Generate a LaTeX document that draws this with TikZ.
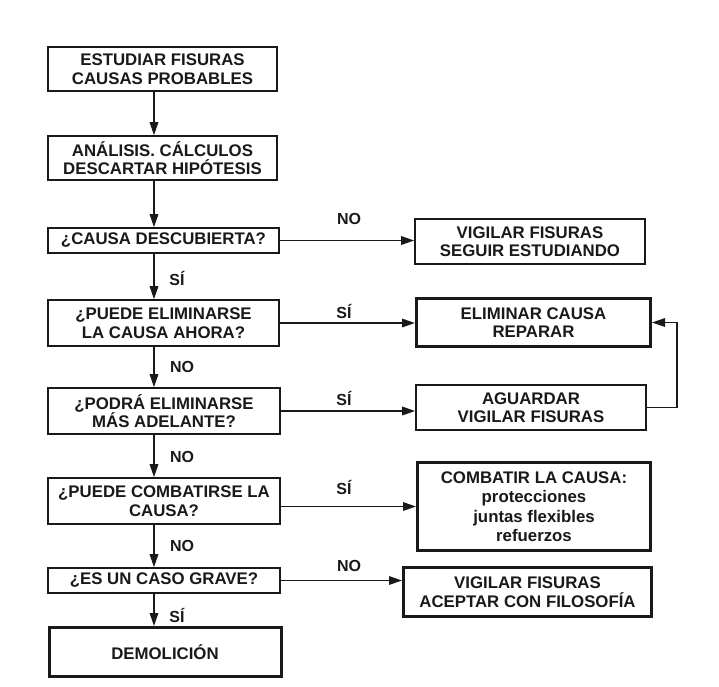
\documentclass[tikz,border=0pt]{standalone}
\usepackage{fontspec}
\setmainfont{Liberation Sans}
\usetikzlibrary{arrows.meta}
\begin{document}
\begin{tikzpicture}[x=1pt,y=-1pt,
  box/.style={draw=black!90, line width=1.6pt, inner sep=0pt, align=center, text=black!90,
    font=\bfseries\fontsize{16.8}{18.5}\selectfont},
  thickbox/.style={box, line width=3pt},
  lbl/.style={text=black!90, font=\bfseries\fontsize{16}{18}\selectfont, inner sep=0pt},
  arr/.style={draw=black!90, line width=1.6pt, -{Triangle[length=13pt,width=8.5pt]}}]
\useasboundingbox[fill=white] (0,0) rectangle (719,686);
% left column
\node[box, minimum width=229pt, minimum height=44pt] (n1) at (162.5,69) {ESTUDIAR FISURAS\\CAUSAS PROBABLES};
\node[box, minimum width=229pt, minimum height=44pt] (n2) at (162.5,158) {ANÁLISIS. CÁLCULOS\\DESCARTAR HIPÓTESIS};
\node[box, minimum width=231pt, minimum height=25pt] (n3) at (163.5,240.5) {¿CAUSA DESCUBIERTA?};
\node[box, minimum width=231pt, minimum height=46pt] (n4) at (163.5,323) {¿PUEDE ELIMINARSE\\LA CAUSA AHORA?};
\node[box, minimum width=232pt, minimum height=46pt] (n5) at (164,411) {¿PODRÁ ELIMINARSE\\MÁS ADELANTE?};
\node[box, minimum width=232pt, minimum height=46pt] (n6) at (164,501) {¿PUEDE COMBATIRSE LA\\CAUSA?};
\node[box, minimum width=232pt, minimum height=25pt] (n7) at (164,580.5) {¿ES UN CASO GRAVE?};
\node[thickbox, minimum width=232pt, minimum height=49pt] (n8) at (165,652) {DEMOLICIÓN};
% right column
\node[box, minimum width=230pt, minimum height=45pt] (A) at (530,241.5) {VIGILAR FISURAS\\SEGUIR ESTUDIANDO};
\node[thickbox, minimum width=234pt, minimum height=48pt] (B) at (533.5,322.5) {ELIMINAR CAUSA\\REPARAR};
\node[box, minimum width=230pt, minimum height=45pt] (C) at (531,407.5) {AGUARDAR\\VIGILAR FISURAS};
\node[thickbox, minimum width=233pt, minimum height=88pt, font=\bfseries\fontsize{16.8}{19.5}\selectfont] (D) at (534,506.5) {COMBATIR LA CAUSA:\\protecciones\\juntas flexibles\\refuerzos};
\node[thickbox, minimum width=248pt, minimum height=49pt] (E) at (527.5,592) {VIGILAR FISURAS\\ACEPTAR CON FILOSOFÍA};
% helper coordinates
\coordinate (ax) at (154,0);
\coordinate (fb) at (677,0);
% vertical arrows
\draw[arr] (n1.south -| ax) -- (n2.north -| ax);
\draw[arr] (n2.south -| ax) -- (n3.north -| ax);
\draw[arr] (n3.south -| ax) -- (n4.north -| ax);
\draw[arr] (n4.south -| ax) -- (n5.north -| ax);
\draw[arr] (n5.south -| ax) -- (n6.north -| ax);
\draw[arr] (n6.south -| ax) -- (n7.north -| ax);
\draw[arr] (n7.south -| ax) -- (n8.north -| ax);
% horizontal arrows
\draw[arr] (n3.east) -- (A.west |- n3.east);
\draw[arr] (n4.east) -- (B.west |- n4.east);
\draw[arr] (n5.east) -- (C.west |- n5.east);
\draw[arr] (D.west -| n6.east) -- (D.west);
\draw[arr] (n7.east) -- (E.west |- n7.east);
% feedback
\draw[arr] (C.east) -- (C.east -| fb) |- (B.east);
% labels
\node[lbl] (l1) at (349,219) {NO};
\node[lbl] (l2) at (344,311) {SÍ};
\node[lbl] (l3) at (344,398) {SÍ};
\node[lbl] (l4) at (344,487) {SÍ};
\node[lbl] (l5) at (349,566) {NO};
\node[lbl] (v1) at (177,278) {SÍ};
\node[lbl] (v2) at (182,367) {NO};
\node[lbl] (v3) at (182,457) {NO};
\node[lbl] (v4) at (182,546) {NO};
\node[lbl] (v5) at (177,615) {SÍ};
\end{tikzpicture}
\end{document}
